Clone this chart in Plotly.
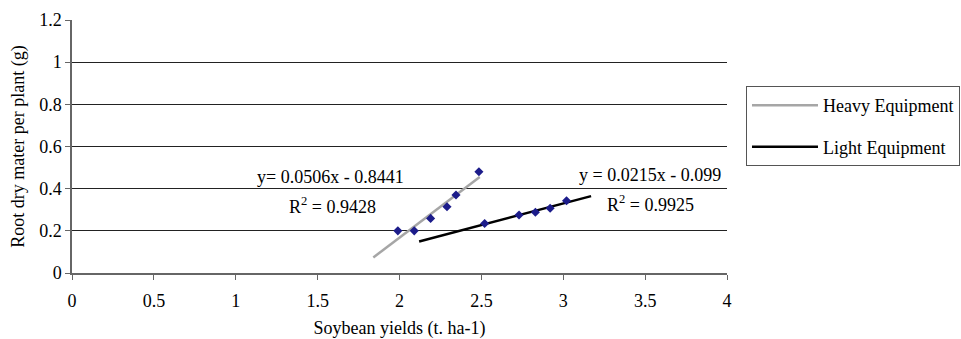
import numpy as np
import plotly.graph_objects as go

# Data
heavy_x = [1.99, 2.09, 2.19, 2.29, 2.345, 2.485]
heavy_y = [0.200, 0.200, 0.259, 0.314, 0.370, 0.480]
light_x = [2.52, 2.73, 2.83, 2.92, 3.02]
light_y = [0.235, 0.275, 0.288, 0.307, 0.343]
heavy_trend_range = [1.84, 2.49]
light_trend_range = [2.12, 3.17]
heavy_eq = ["y= 0.0506x - 0.8441", "R<sup>2</sup> = 0.9428"]
light_eq = ["y = 0.0215x - 0.099", "R<sup>2</sup> = 0.9925"]
x_ticks = [0, 0.5, 1, 1.5, 2, 2.5, 3, 3.5, 4]
y_ticks = [0, 0.2, 0.4, 0.6, 0.8, 1, 1.2]

FONT = "Liberation Serif, Times New Roman, serif"
FS = 18

def trend(xs, ys, rng):
    k, b = np.polyfit(xs, ys, 1)
    tx = np.array(rng)
    return tx, k * tx + b

fig = go.Figure()
hx, hy = trend(heavy_x, heavy_y, heavy_trend_range)
lx, ly = trend(light_x, light_y, light_trend_range)

fig.add_trace(go.Scatter(x=hx, y=hy, mode="lines", name="Heavy Equipment",
                         line=dict(color="#a6a6a6", width=2.5), legendgroup="h"))
fig.add_trace(go.Scatter(x=lx, y=ly, mode="lines", name="Light Equipment",
                         line=dict(color="#000000", width=2.5), legendgroup="l"))
fig.add_trace(go.Scatter(x=heavy_x, y=heavy_y, mode="markers", showlegend=False,
                         marker=dict(symbol="diamond", size=7, color="#1c1c8a")))
fig.add_trace(go.Scatter(x=light_x, y=light_y, mode="markers", showlegend=False,
                         marker=dict(symbol="diamond", size=7, color="#1c1c8a")))

ann_font = dict(family=FONT, size=FS, color="#000")
fig.add_annotation(x=1.58, y=0.455, text=heavy_eq[0], showarrow=False, font=ann_font)
fig.add_annotation(x=1.59, y=0.32, text=heavy_eq[1], showarrow=False, font=ann_font)
fig.add_annotation(x=3.53, y=0.465, text=light_eq[0], showarrow=False, font=ann_font)
fig.add_annotation(x=3.53, y=0.33, text=light_eq[1], showarrow=False, font=ann_font)

fig.update_layout(
    width=961, height=339,
    margin=dict(l=72, r=234, t=20, b=66, autoexpand=False),
    paper_bgcolor="white", plot_bgcolor="white",
    font=dict(family=FONT, size=FS, color="#000"),
    legend=dict(x=1.029, y=0.739, xanchor="left", yanchor="top",
                bordercolor="#555", borderwidth=1, bgcolor="white",
                font=dict(family=FONT, size=FS), tracegroupgap=15,
                itemwidth=66),
    xaxis=dict(range=[0, 4], tickvals=x_ticks, ticktext=[str(v) for v in x_ticks],
               showgrid=False, zeroline=False, showline=True, linecolor="#666",
               linewidth=1.5, ticks="outside", ticklen=5, tickcolor="#666",
               tickfont=dict(family=FONT, size=FS), automargin=False,
               ticklabelstandoff=6,
               title=dict(text="Soybean yields (t. ha-1)", font=dict(family=FONT, size=FS), standoff=19)),
    yaxis=dict(range=[0, 1.2], tickvals=y_ticks, ticktext=[str(v) for v in y_ticks],
               showgrid=True, gridcolor="#222", gridwidth=1, zeroline=False,
               showline=True, linecolor="#666", linewidth=1.5, ticks="outside",
               ticklen=5, tickcolor="#666", tickfont=dict(family=FONT, size=FS),
               automargin=False,
               title=dict(text="Root dry mater per plant (g)", font=dict(family=FONT, size=FS), standoff=10)),
)

fig.write_html("out.html", config={"displayModeBar": False},
               post_script="document.body.style.margin='0';")
